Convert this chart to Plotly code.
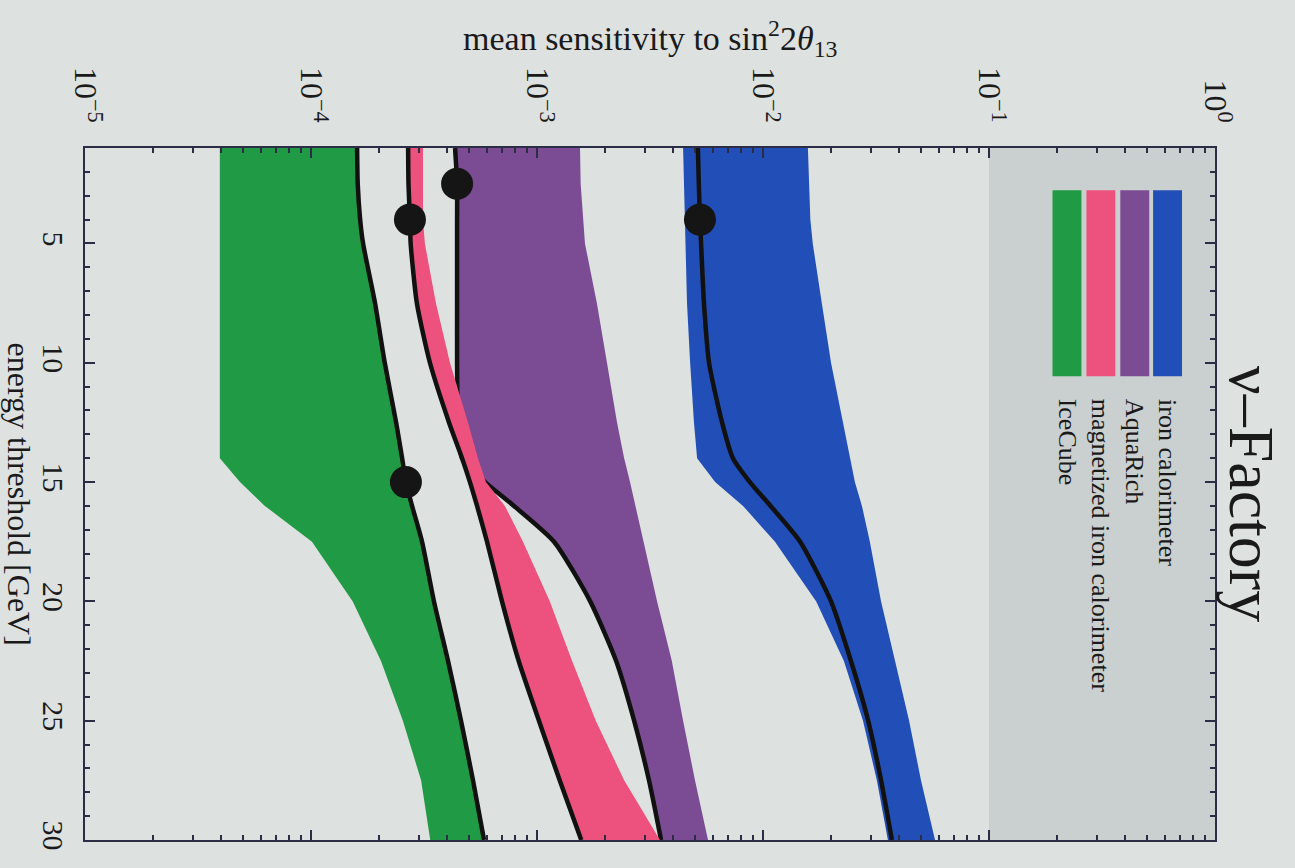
import plotly.graph_objects as go

# Energy threshold grid [GeV]
energy = [1, 2.5, 4, 5, 7.5, 10, 12.5, 14, 15, 16, 17.5, 20, 22.5, 25, 27.5, 30]

# IceCube: band edges (the upper edge is the reference curve)
icecube_low = [3.95e-5, 3.95e-5, 3.95e-5, 3.95e-5, 3.95e-5, 3.95e-5, 3.95e-5, 3.95e-5,
               4.85e-5, 6.25e-5, 1.01e-4, 1.53e-4, 2.04e-4, 2.55e-4, 3.07e-4, 3.37e-4]
icecube_line = [1.60e-4, 1.61e-4, 1.65e-4, 1.70e-4, 1.92e-4, 2.12e-4, 2.38e-4, 2.53e-4,
                2.63e-4, 2.80e-4, 3.10e-4, 3.50e-4, 4.04e-4, 4.61e-4, 5.21e-4, 5.83e-4]

# magnetized iron calorimeter (reference curve is the lower edge)
magnetized_line = [2.69e-4, 2.70e-4, 2.74e-4, 2.76e-4, 2.94e-4, 3.36e-4, 4.08e-4, 4.66e-4,
                   5.05e-4, 5.43e-4, 6.01e-4, 7.00e-4, 8.30e-4, 1.02e-3, 1.26e-3, 1.57e-3]
magnetized_high = [3.13e-4, 3.13e-4, 3.13e-4, 3.19e-4, 3.57e-4, 4.12e-4, 4.95e-4, 5.48e-4,
                   5.94e-4, 7.21e-4, 8.67e-4, 1.14e-3, 1.43e-3, 1.82e-3, 2.43e-3, 3.50e-3]

# AquaRich (reference curve is the lower edge)
aquarich_line = [4.34e-4, 4.43e-4, 4.43e-4, 4.43e-4, 4.43e-4, 4.43e-4, 4.47e-4, 4.66e-4,
                 5.89e-4, 7.91e-4, 1.19e-3, 1.72e-3, 2.24e-3, 2.69e-3, 3.13e-3, 3.54e-3]
aquarich_high = [1.55e-3, 1.56e-3, 1.60e-3, 1.63e-3, 1.84e-3, 2.04e-3, 2.26e-3, 2.43e-3,
                 2.58e-3, 2.74e-3, 2.97e-3, 3.40e-3, 3.95e-3, 4.43e-3, 5.00e-3, 5.71e-3]

# iron calorimeter
iron_low = [4.43e-3, 4.47e-3, 4.52e-3, 4.55e-3, 4.61e-3, 4.76e-3, 4.95e-3, 5.11e-3,
            6.14e-3, 8.16e-3, 1.13e-2, 1.72e-2, 2.28e-2, 2.77e-2, 3.19e-2, 3.57e-2]
iron_line = [5.15e-3, 5.20e-3, 5.26e-3, 5.32e-3, 5.48e-3, 5.77e-3, 6.59e-3, 7.36e-3,
             8.75e-3, 1.08e-2, 1.46e-2, 2.00e-2, 2.45e-2, 2.92e-2, 3.33e-2, 3.72e-2]
iron_high = [1.58e-2, 1.60e-2, 1.62e-2, 1.66e-2, 1.82e-2, 2.00e-2, 2.26e-2, 2.43e-2,
             2.55e-2, 2.74e-2, 2.97e-2, 3.33e-2, 3.84e-2, 4.43e-2, 5.00e-2, 5.77e-2]

# default thresholds of each detector
dot_energy = [4, 2.5, 4, 15]
dot_value = [2.74e-4, 4.43e-4, 5.26e-3, 2.63e-4]

legend_labels = ["iron calorimeter", "AquaRich", "magnetized iron calorimeter", "IceCube"]
x_tick_vals = [1e-5, 1e-4, 1e-3, 1e-2, 1e-1, 1e0]
x_tick_text = ["10<sup>\u22125</sup>", "10<sup>\u22124</sup>", "10<sup>\u22123</sup>",
               "10<sup>\u22122</sup>", "10<sup>\u22121</sup>", "10<sup>0</sup>"]
y_tick_vals = [5, 10, 15, 20, 25, 30]

GREEN = "#219a45"
PINK = "#ec527d"
PURPLE = "#7b4c93"
BLUE = "#214fb7"
BG = "#dde1e0"
LEGEND_BG = "#cacfcf"
FRAME = "#2b2d45"
TEXT = "#1a1a1a"
SERIF = "Liberation Serif"

fig = go.Figure()


def add_band(low, high, color):
    fig.add_trace(go.Scatter(
        x=list(low) + list(high)[::-1],
        y=list(energy) + list(energy)[::-1],
        mode="lines", fill="toself", fillcolor=color,
        line=dict(width=0, color=color), hoverinfo="skip", showlegend=False))


def add_curve(values):
    fig.add_trace(go.Scatter(
        x=values, y=energy, mode="lines",
        line=dict(color="#111111", width=4.5, shape="spline", smoothing=0.6),
        hoverinfo="skip", showlegend=False))


add_band(aquarich_line, aquarich_high, PURPLE)
add_curve(aquarich_line)
add_band(magnetized_line, magnetized_high, PINK)
add_curve(magnetized_line)
add_band(icecube_low, icecube_line, GREEN)
add_curve(icecube_line)
add_band(iron_low, iron_high, BLUE)
add_curve(iron_line)

fig.add_trace(go.Scatter(
    x=dot_value, y=dot_energy, mode="markers",
    marker=dict(color="#151515", size=32),
    hoverinfo="skip", showlegend=False))

# legend panel spanning the 0.1 .. 1 decade
fig.add_shape(type="rect", xref="paper", yref="paper", x0=0.8, x1=1.0, y0=0, y1=1,
              fillcolor=LEGEND_BG, line=dict(width=0), layer="below")

swatch_colors = [BLUE, PURPLE, PINK, GREEN]
swatch_x = [0.958, 0.929, 0.899, 0.869]
for col, xc, label in zip(swatch_colors, swatch_x, legend_labels):
    fig.add_shape(type="rect", xref="paper", yref="paper",
                  x0=xc - 0.0128, x1=xc + 0.0128, y0=0.670, y1=0.939,
                  fillcolor=col, line=dict(width=0))
    fig.add_annotation(text=label, xref="paper", yref="paper", x=xc, y=0.64,
                       xanchor="center", yanchor="top", textangle=90, showarrow=False,
                       font=dict(family=SERIF, size=26, color=TEXT))

fig.add_annotation(text="\u03bd\u2013Factory", xref="paper", yref="paper", x=1.033, y=0.5,
                   xanchor="center", yanchor="middle", textangle=90, showarrow=False,
                   font=dict(family=SERIF, size=64, color=TEXT))

fig.add_annotation(text="mean sensitivity to sin<sup>2</sup>2<i>\u03b8</i><sub>13</sub>",
                   xref="paper", yref="paper", x=0.5, y=1.158,
                   xanchor="center", yanchor="middle", showarrow=False,
                   font=dict(family=SERIF, size=34, color=TEXT))

fig.add_annotation(text="energy threshold [GeV]", xref="paper", yref="paper",
                   x=-0.058, y=0.5, xanchor="center", yanchor="middle", textangle=90,
                   showarrow=False, font=dict(family=SERIF, size=32, color=TEXT))

fig.update_xaxes(
    type="log", range=[-5, 0], side="top",
    tickvals=x_tick_vals, ticktext=x_tick_text, tickangle=90,
    ticks="inside", ticklen=10, tickwidth=1.5, tickcolor=FRAME,
    minor=dict(ticks="inside", ticklen=5, tickcolor=FRAME, dtick="D1", showgrid=False),
    showline=True, linecolor=FRAME, linewidth=2, mirror="ticks",
    showgrid=False, zeroline=False, ticklabelstandoff=12,
    tickfont=dict(family=SERIF, size=32, color=TEXT))

fig.update_yaxes(
    range=[30, 1], tickvals=y_tick_vals, tickangle=90,
    ticks="inside", ticklen=10, tickwidth=1.5, tickcolor=FRAME,
    minor=dict(ticks="inside", ticklen=5, tickcolor=FRAME, dtick=1, showgrid=False),
    showline=True, linecolor=FRAME, linewidth=2, mirror="ticks",
    showgrid=False, zeroline=False, ticklabelstandoff=4,
    tickfont=dict(family=SERIF, size=30, color=TEXT))

fig.update_layout(
    width=1295, height=868,
    margin=dict(l=85, r=80, t=148, b=28),
    paper_bgcolor=BG, plot_bgcolor=BG,
    showlegend=False)

fig.write_html("out.html")
